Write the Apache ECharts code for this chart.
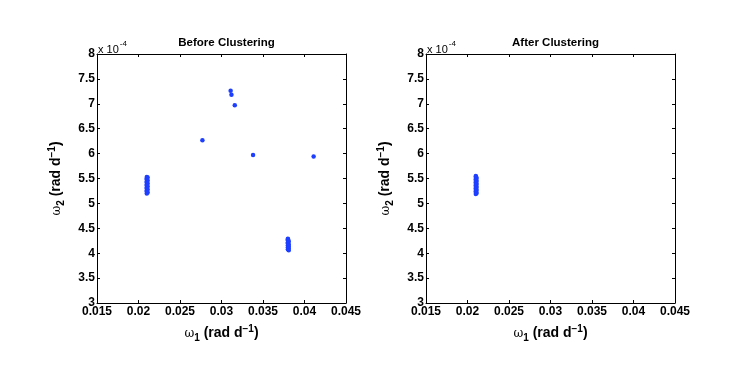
<!DOCTYPE html>
<html><head><meta charset="utf-8">
<script src="https://cdn.jsdelivr.net/npm/echarts@6/dist/echarts.min.js"></script>
<style>html,body{margin:0;padding:0;background:#fff}#c{width:747px;height:371px}</style>
</head><body><div id="c"></div>
<script>
// Values: x = omega_1 (rad/d), y = omega_2 in units of 1e-4 rad/d
const titles = ['Before Clustering', 'After Clustering'];
const xTicks = [0.015, 0.02, 0.025, 0.03, 0.035, 0.04, 0.045];
const yTicks = [3, 3.5, 4, 4.5, 5, 5.5, 6, 6.5, 7, 7.5, 8];
const yExponent = '-4';

// Before clustering: main cluster, second cluster, scattered outliers
const beforeClusterA = [
  [0.0210, 5.20], [0.0211, 5.22], [0.0210, 5.24], [0.0210, 5.26], [0.0211, 5.28],
  [0.0210, 5.30], [0.0210, 5.32], [0.0211, 5.34], [0.0210, 5.36], [0.0210, 5.38],
  [0.0211, 5.40], [0.0210, 5.42], [0.0210, 5.44], [0.0211, 5.46], [0.0210, 5.48],
  [0.0210, 5.50], [0.0211, 5.52], [0.0210, 5.53]
];
const beforeClusterB = [
  [0.0381, 4.06], [0.0380, 4.08], [0.0381, 4.10], [0.0380, 4.12], [0.0381, 4.14],
  [0.0380, 4.16], [0.0381, 4.18], [0.0380, 4.20], [0.0380, 4.22], [0.0381, 4.24],
  [0.0380, 4.26], [0.0380, 4.28], [0.0380, 4.29]
];
const beforeOutliers = [
  [0.0311, 7.26], [0.0312, 7.18], [0.0316, 6.97], [0.0277, 6.27],
  [0.0338, 5.97], [0.0411, 5.94]
];
// After clustering: only the main cluster remains
const afterCluster = [
  [0.0210, 5.19], [0.0211, 5.21], [0.0210, 5.23], [0.0210, 5.25], [0.0211, 5.27],
  [0.0210, 5.29], [0.0210, 5.31], [0.0211, 5.33], [0.0210, 5.35], [0.0210, 5.37],
  [0.0211, 5.39], [0.0210, 5.41], [0.0210, 5.43], [0.0211, 5.45], [0.0210, 5.47],
  [0.0210, 5.49], [0.0211, 5.51], [0.0210, 5.53], [0.0210, 5.55]
];

const FONT = '"Liberation Sans", Arial, Helvetica, sans-serif';
const BLUE = '#1f3fff';
const grids = [
  { left: 97, top: 54, width: 249, height: 249 },
  { left: 426, top: 54, width: 249, height: 249 }
];
const xmin = xTicks[0], xmax = xTicks[xTicks.length - 1];
const ymin = yTicks[0], ymax = yTicks[yTicks.length - 1];
const xint = xTicks[1] - xTicks[0], yint = yTicks[1] - yTicks[0];

const nameRich = {
  w: { fontFamily: '"DejaVu Serif", serif', fontSize: 12, color: '#000' },
  sub: { fontFamily: FONT, fontWeight: 'bold', fontSize: 10, color: '#000', padding: [9, 0, 0, 0] },
  t: { fontFamily: FONT, fontWeight: 'bold', fontSize: 14, color: '#000' },
  sup: { fontFamily: FONT, fontWeight: 'bold', fontSize: 10, color: '#000', padding: [0, 0, 9, 0] }
};

const xAxes = [], yAxes = [];
grids.forEach((g, i) => {
  const common = {
    gridIndex: i, type: 'value', min: xmin, max: xmax, interval: xint,
    splitLine: { show: false },
    axisLine: { show: true, onZero: false, lineStyle: { color: '#000', width: 1 } },
    axisTick: { show: true, inside: true, length: 3, lineStyle: { color: '#000' } }
  };
  xAxes.push(Object.assign({}, common, {
    position: 'bottom',
    axisLabel: { color: '#000', fontFamily: FONT, fontWeight: 'bold', fontSize: 12, margin: 3,
      formatter: v => String(+v.toFixed(3)) },
    name: '{w|ω}{sub|1}{t| (rad d}{sup|−1}{t|)}',
    nameLocation: 'middle', nameGap: 21,
    nameTextStyle: { rich: nameRich }
  }));
  xAxes.push(Object.assign({}, common, { position: 'top', axisLabel: { show: false } }));
  const ycommon = {
    gridIndex: i, type: 'value', min: ymin, max: ymax, interval: yint,
    splitLine: { show: false },
    axisLine: { show: true, onZero: false, lineStyle: { color: '#000', width: 1 } },
    axisTick: { show: true, inside: true, length: 3, lineStyle: { color: '#000' } }
  };
  yAxes.push(Object.assign({}, ycommon, {
    position: 'left',
    axisLabel: { color: '#000', fontFamily: FONT, fontWeight: 'bold', fontSize: 12, margin: 2 },
    name: '{w|ω}{sub|2}{t| (rad d}{sup|−1}{t|)}',
    nameLocation: 'middle', nameGap: 31, nameRotate: 90,
    nameTextStyle: { rich: nameRich }
  }));
  yAxes.push(Object.assign({}, ycommon, { position: 'right', axisLabel: { show: false } }));
});

function sc(data, xi, yi) {
  return { type: 'scatter', xAxisIndex: xi, yAxisIndex: yi, data: data,
    symbol: 'circle', symbolSize: 4.5, itemStyle: { color: BLUE, opacity: 1 }, silent: true, animation: false };
}

const chart = echarts.init(document.getElementById('c'), null, { renderer: 'canvas' });
chart.setOption({
  backgroundColor: '#fff',
  animation: false,
  title: titles.map((t, i) => ({
    text: t, left: grids[i].left + grids[i].width / 2, top: 32, textAlign: 'center',
    textStyle: { fontFamily: FONT, fontWeight: 'bold', fontSize: 11.5, color: '#000' }
  })),
  graphic: grids.map(g => ({
    type: 'text', left: g.left + 1, top: 40,
    style: {
      text: '{a|x 10}{b|' + yExponent + '}',
      rich: {
        a: { fontFamily: FONT, fontSize: 11, fill: '#000', padding: [4, 0, 0, 0] },
        b: { fontFamily: FONT, fontSize: 8, fill: '#000', padding: [0, 0, 7, 1] }
      }
    }
  })),
  grid: grids,
  xAxis: xAxes,
  yAxis: yAxes,
  series: [
    sc(beforeClusterA, 0, 0), sc(beforeClusterB, 0, 0), sc(beforeOutliers, 0, 0),
    sc(afterCluster, 2, 2)
  ]
});
</script>
</body></html>
